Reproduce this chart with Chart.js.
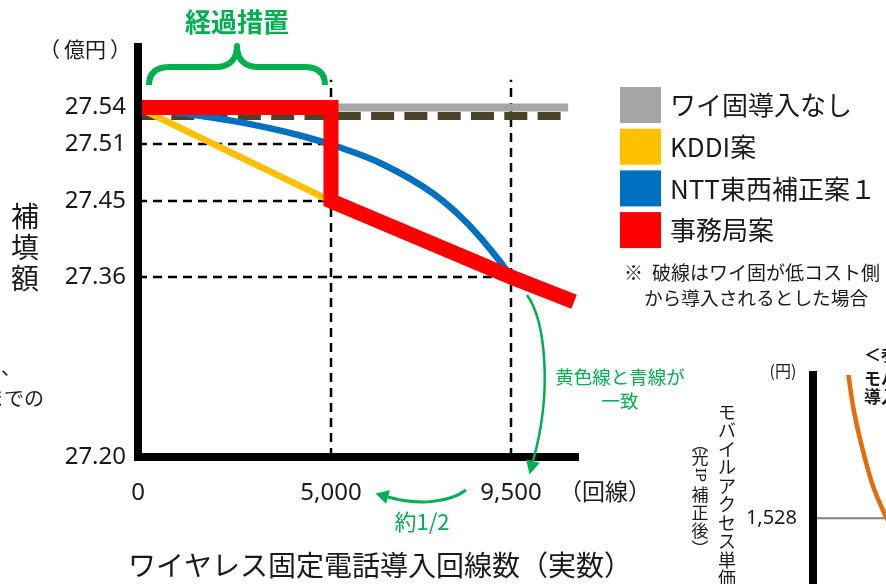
<!DOCTYPE html>
<html lang="ja">
<head>
<meta charset="utf-8">
<title>補填額の推移</title>
<script src="https://cdn.jsdelivr.net/npm/chart.js@4.4.1/dist/chart.umd.min.js"></script>
<style>
  html, body { margin: 0; padding: 0; background: #fff; overflow: hidden; }
  #wrap { position: relative; width: 886px; height: 584px; overflow: hidden; }
  #main { position: absolute; left: 0; top: 0; }
  #side { position: absolute; left: 690px; top: 340px; }
</style>
</head>
<body>
<div id="wrap">
  <canvas id="main" width="886" height="584"></canvas>
  <canvas id="side" width="300" height="289"></canvas>
</div>
<script>
// ---------- values ----------
const xTickValues = [0, 5000, 9500];                       // 回線
const yTickValues = [27.20, 27.36, 27.45, 27.51, 27.54];   // 億円

const seriesNames = ['ワイ固導入なし', 'KDDI案', 'NTT東西補正案１', '事務局案'];

// ワイ固導入なし
const noWirelessLines  = [0, 10950];
const noWirelessValues = [27.54, 27.54];
// 破線：ワイ固が低コスト側から導入される場合
const lowCostLines  = [0, 10950];
const lowCostValues = [27.533, 27.533];
// KDDI案
const kddiLines  = [0, 5000, 9500, 10900];
const kddiValues = [27.54, 27.45, 27.36, 27.34];
// NTT東西補正案１
const nttLines  = [0, 2460, 4200, 5250, 6230, 7550, 8400, 9230, 9500];
const nttValues = [27.54, 27.529, 27.517, 27.506, 27.49, 27.458, 27.424, 27.378, 27.36];
// 事務局案
const secretariatLines  = [0, 5000, 5000, 9500, 11100];
const secretariatValues = [27.54, 27.54, 27.45, 27.36, 27.338];

// guide lines
const guideLevels    = [27.51, 27.45, 27.36];
const guideLevelEnds = [5000, 5000, 9500];
const guideColumns   = [5000, 9500];
const guideTop       = 27.563;

// モバイルアクセス単価（円）
const sideTickValues   = [1528];
const sideRuleX        = [0, 10];
const sideRuleY        = [1528, 1528];
const unitPriceX       = [1.95, 2.26, 2.82, 3.39, 3.95, 4.52, 5.08];
const unitPriceY       = [1760, 1702, 1633, 1578, 1541, 1509, 1484];

// ---------- a scale with hand-placed stops (schematic axis) ----------
class AnchoredScale extends Chart.LinearScale {
  _decimalFor(value) {
    const a = this.options.anchors;
    let i = 1;
    while (i < a.length - 1 && value > a[i][0]) i++;
    const [v0, d0] = a[i - 1], [v1, d1] = a[i];
    return d0 + (value - v0) * (d1 - d0) / (v1 - v0);
  }
  getPixelForValue(value) {
    if (value === null || value === undefined) return NaN;
    return this.getPixelForDecimal(this._decimalFor(value));
  }
  getValueForPixel(pixel) {
    const d = this.getDecimalForPixel(pixel);
    const a = this.options.anchors;
    let i = 1;
    while (i < a.length - 1 && d > a[i][1]) i++;
    const [v0, d0] = a[i - 1], [v1, d1] = a[i];
    return v0 + (d - d0) * (v1 - v0) / (d1 - d0);
  }
}
AnchoredScale.id = 'anchored';
Chart.register(AnchoredScale);

const JP = '"Noto Sans CJK JP", "Noto Sans", sans-serif';
const NUM = '"Noto Sans", "Open Sans", sans-serif';
const INK = '#1a1a1a';
const GREEN = '#00B050';

const pairs = (xs, ys) => xs.map((x, i) => ({ x, y: ys[i] }));

function lineSet(xs, ys, extra) {
  return Object.assign({
    data: pairs(xs, ys),
    pointRadius: 0,
    fill: false,
    tension: 0,
    borderCapStyle: 'butt',
    borderJoinStyle: 'miter',
    clip: false
  }, extra);
}

const datasets = [
  lineSet(secretariatLines, secretariatValues, { label: seriesNames[3], borderColor: '#FF0000', borderWidth: 15, order: 0, inLegend: 3 }),
  lineSet(nttLines, nttValues, { label: seriesNames[2], borderColor: '#0070C0', borderWidth: 6.5, cubicInterpolationMode: 'monotone', order: 1, inLegend: 2 }),
  lineSet(kddiLines, kddiValues, { label: seriesNames[1], borderColor: '#FFC000', borderWidth: 6.5, order: 2, inLegend: 1 }),
  lineSet(lowCostLines, lowCostValues, { label: '', borderColor: '#494429', borderWidth: 8, borderDash: [23, 10.3], order: 3 }),
  lineSet(noWirelessLines, noWirelessValues, { label: seriesNames[0], borderColor: '#A6A6A6', borderWidth: 8, order: 4, inLegend: 0 })
];
guideLevels.forEach((lv, i) => {
  datasets.push(lineSet([0, guideLevelEnds[i]], [lv, lv], { label: '', borderColor: '#000', borderWidth: 2.5, borderDash: [9, 6], order: 5 }));
});
guideColumns.forEach(c => {
  datasets.push(lineSet([c, c], [yTickValues[0], guideTop], { label: '', borderColor: '#000', borderWidth: 2.5, borderDash: [9, 6], order: 5 }));
});

// ---------- text helpers ----------
function put(ctx, str, x, y, o = {}) {
  ctx.save();
  ctx.font = `${o.weight || 'normal'} ${o.size || 20}px ${o.family || JP}`;
  ctx.fillStyle = o.color || INK;
  ctx.textAlign = o.align || 'left';
  ctx.textBaseline = 'middle';
  ctx.fillText(str, x, y);
  ctx.restore();
}
function column(ctx, chars, x, y0, step, o) {
  chars.forEach((ch, i) => put(ctx, ch, x, y0 + i * step, Object.assign({ align: 'center' }, o)));
}
function arrowHead(ctx, fromX, fromY, toX, toY, len, half) {
  const dx = toX - fromX, dy = toY - fromY, m = Math.hypot(dx, dy);
  const ux = dx / m, uy = dy / m;
  ctx.beginPath();
  ctx.moveTo(toX + ux * len, toY + uy * len);
  ctx.lineTo(toX - uy * half, toY + ux * half);
  ctx.lineTo(toX + uy * half, toY - ux * half);
  ctx.closePath();
  ctx.fill();
}

const decorations = {
  id: 'decorations',
  afterDraw(chart) {
    const ctx = chart.ctx;
    const xs = chart.scales.x;
    const px0 = xs.getPixelForValue(0), px1 = xs.getPixelForValue(5000), px2 = xs.getPixelForValue(9500);

    // axis captions
    put(ctx, '（', 60, 49, { size: 21, align: 'right' });
    put(ctx, '億円', 85, 49, { size: 21, align: 'center' });
    put(ctx, '）', 110, 49, { size: 21, align: 'left' });
    column(ctx, ['補', '填', '額'], 25, 216, 31, { size: 28 });
    put(ctx, '（回線）', 559, 491, { size: 23 });
    put(ctx, 'ワイヤレス固定電話導入回線数（実数）', 128, 565, { size: 28 });

    // transition period brace
    put(ctx, '経過措置', 237, 22, { size: 26, weight: 'bold', color: GREEN, align: 'center' });
    const L = px0 + 11, R = px1 - 6, M = (L + R) / 2;
    ctx.save();
    ctx.strokeStyle = GREEN; ctx.lineWidth = 6; ctx.lineJoin = 'round';
    ctx.beginPath();
    ctx.moveTo(L, 85);
    ctx.bezierCurveTo(L, 73, L + 7, 67, L + 21, 67);
    ctx.lineTo(M - 22, 67);
    ctx.bezierCurveTo(M - 8, 67, M, 60, M, 46);
    ctx.bezierCurveTo(M, 60, M + 8, 67, M + 22, 67);
    ctx.lineTo(R - 21, 67);
    ctx.bezierCurveTo(R - 7, 67, R, 73, R, 85);
    ctx.stroke();
    ctx.restore();

    // arrows
    ctx.save();
    ctx.strokeStyle = GREEN; ctx.fillStyle = GREEN;
    ctx.lineWidth = 2.5;
    ctx.beginPath();
    ctx.moveTo(px2 + 16, 295);
    ctx.bezierCurveTo(px2 + 34, 320, px2 + 42, 390, px2 + 22, 461);
    ctx.stroke();
    arrowHead(ctx, px2 + 39, 395, px2 + 22, 461, 14, 7);
    ctx.lineWidth = 3;
    ctx.beginPath();
    ctx.moveTo(px2 - 45, 490);
    ctx.bezierCurveTo(px2 - 61, 502, px2 - 91, 506, px2 - 123, 497);
    ctx.stroke();
    arrowHead(ctx, px2 - 91, 506, px2 - 123, 497, 13, 7);
    ctx.restore();
    put(ctx, '黄色線と青線が', 620, 377, { size: 18.5, color: GREEN, align: 'center' });
    put(ctx, '一致', 620, 401, { size: 18.5, color: GREEN, align: 'center' });
    put(ctx, '約1/2', 422, 522, { size: 22, color: GREEN, align: 'center' });

    // legend
    chart.data.datasets
      .filter(d => d.inLegend !== undefined)
      .sort((a, b) => a.inLegend - b.inLegend)
      .forEach((d, i) => {
        const top = 87 + i * 41.7;
        ctx.fillStyle = d.borderColor;
        ctx.fillRect(620, top, 41, 36);
        put(ctx, d.label, 670, top + 18.5, { size: 26 });
      });
    put(ctx, '※', 624, 273, { size: 19 });
    put(ctx, '破線はワイ固が低コスト側', 652, 273, { size: 19 });
    put(ctx, 'から導入されるとした場合', 756, 298, { size: 18.7, align: 'center' });

    // neighbouring text
    put(ctx, 'い、', 21, 367, { size: 20, align: 'right' });
    put(ctx, 'までの', 44, 398, { size: 20, align: 'right' });

    // side panel captions
    put(ctx, '(円)', 783, 371, { size: 16, align: 'center' });
    column(ctx, ['モ', 'バ', 'イ', 'ル', 'ア', 'ク', 'セ', 'ス', '単', '価'], 727, 412, 18.5, { size: 18 });
    column(ctx, ['︵', '光'], 700, 444, 14, { size: 17 });
    ctx.save();
    ctx.translate(700, 475);
    ctx.rotate(Math.PI / 2);
    put(ctx, 'IP', 0, 0, { size: 15, align: 'center', family: NUM });
    ctx.restore();
    column(ctx, ['補', '正', '後', '︶'], 700, 495, 17.7, { size: 17 });
    put(ctx, '＜参考＞', 864, 355, { size: 17, weight: 'bold' });
    put(ctx, 'モバイル', 864, 379, { size: 17, weight: 'bold' });
    put(ctx, '導入', 864, 397, { size: 17, weight: 'bold' });
  }
};

new Chart(document.getElementById('main'), {
  type: 'line',
  data: { datasets },
  options: {
    responsive: false,
    animation: false,
    events: [],
    layout: { padding: { left: 30, right: 308, top: 47, bottom: 67 } },
    plugins: { legend: { display: false }, tooltip: { enabled: false } },
    scales: {
      x: {
        type: 'anchored',
        min: 0, max: 11200,
        anchors: [[0, 0], [5000, 0.43864], [9500, 0.84773], [11200, 1]],
        afterBuildTicks: s => { s.ticks = xTickValues.map(v => ({ value: v })); },
        afterFit: s => { s.height = 60; },
        grid: { display: false, drawTicks: false },
        border: { display: true, color: '#000', width: 8, z: 1 },
        ticks: {
          autoSkip: false, maxRotation: 0, padding: 22, color: INK,
          font: { family: NUM, size: 24 },
          callback: v => v.toLocaleString('en-US')
        }
      },
      y: {
        type: 'anchored',
        min: 27.20, max: 27.59,
        anchors: [[27.20, 0], [27.36, 0.43902], [27.45, 0.62439], [27.51, 0.76341], [27.54, 0.85244], [27.59, 1]],
        afterBuildTicks: s => { s.ticks = yTickValues.map(v => ({ value: v })); },
        afterFit: s => { s.width = 108; },
        grid: { display: false, drawTicks: false },
        border: { display: true, color: '#000', width: 8, z: 1 },
        ticks: {
          padding: 12, color: INK,
          font: { family: NUM, size: 24 },
          callback: v => v.toFixed(2)
        }
      }
    }
  },
  plugins: [decorations]
});

// side panel: mobile access unit price
new Chart(document.getElementById('side'), {
  type: 'line',
  data: {
    datasets: [
      { data: pairs(unitPriceX, unitPriceY), borderColor: '#E46C0A', borderWidth: 4.5, pointRadius: 0, cubicInterpolationMode: 'monotone', order: 0 },
      { data: pairs(sideRuleX, sideRuleY), borderColor: '#808080', borderWidth: 2, pointRadius: 0, order: 1 }
    ]
  },
  options: {
    responsive: false,
    animation: false,
    events: [],
    layout: { padding: { left: 0, right: 0, top: 35, bottom: 0 } },
    plugins: { legend: { display: false }, tooltip: { enabled: false } },
    scales: {
      x: { type: 'linear', min: 0, max: 10, display: false },
      y: {
        type: 'linear', min: 1400, max: 1750,
        afterBuildTicks: s => { s.ticks = sideTickValues.map(v => ({ value: v })); },
        afterFit: s => { s.width = 123; },
        grid: { display: false, drawTicks: false },
        border: { display: true, color: '#000', width: 8, z: 1 },
        ticks: { padding: 16, color: INK, font: { family: NUM, size: 20 }, callback: v => v.toLocaleString('en-US') }
      }
    }
  }
});
</script>
</body>
</html>
